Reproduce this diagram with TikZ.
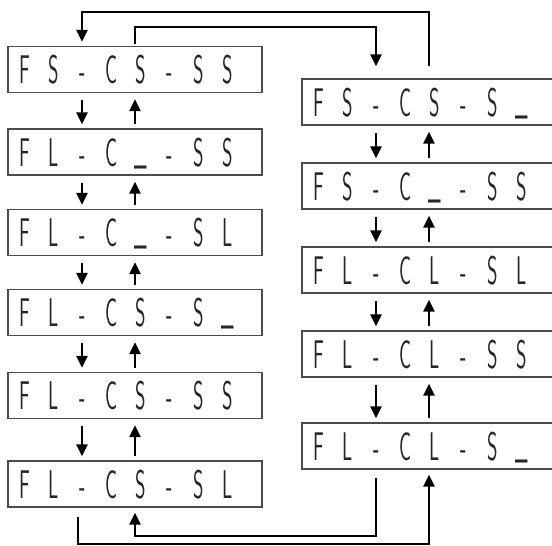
\documentclass[tikz,border=0pt]{standalone}
\usepackage{graphicx}
\usetikzlibrary{arrows.meta,calc}
\newcommand\lcdchar[1]{\makebox[29pt]{\ifx#1\_\raisebox{4pt}{\scalebox{0.5}[1]{\_}}\else\scalebox{0.5}[1]{#1}\fi}}
\makeatletter
\def\lcd#1{\makebox[254pt][l]{\hspace{2pt}\lcd@loop#1\relax}}
\def\lcd@loop#1{\ifx#1\relax\else\lcdchar{#1}\expandafter\lcd@loop\fi}
\makeatother
\tikzset{
  lcdbox/.style={draw=black!70, line width=1.4pt, minimum width=254pt, minimum height=46pt,
    inner sep=0pt, text height=28pt, text depth=0pt, text=black!85,
    font=\sffamily\fontsize{40}{40}\selectfont},
  arr/.style={line width=2.5pt, -{Triangle[length=12pt,width=11pt]}},
  ln/.style={line width=2.5pt}
}
\begin{document}
\begin{tikzpicture}[x=1pt,y=-1pt]
\useasboundingbox (0,0) rectangle (552,546);
\clip (0,0) rectangle (552,546);
% left column
\node[lcdbox] (L1) at (135,69.5) {\lcd{FS-CS-SS}};
\node[lcdbox] (L2) at (135,152) {\lcd{FL-C\_-SS}};
\node[lcdbox] (L3) at (135,232.5) {\lcd{FL-C\_-SL}};
\node[lcdbox] (L4) at (135,312.5) {\lcd{FL-CS-S\_}};
\node[lcdbox] (L5) at (135,395.5) {\lcd{FL-CS-SS}};
\node[lcdbox] (L6) at (135,484) {\lcd{FL-CS-SL}};
% right column
\node[lcdbox] (R1) at (429,102) {\lcd{FS-CS-S\_}};
\node[lcdbox] (R2) at (429,186) {\lcd{FS-C\_-SS}};
\node[lcdbox] (R3) at (429,270) {\lcd{FL-CL-SL}};
\node[lcdbox] (R4) at (429,354) {\lcd{FL-CL-SS}};
\node[lcdbox] (R5) at (429,446) {\lcd{FL-CL-S\_}};
% vertical arrows
\foreach \a/\b in {L1/L2,L2/L3,L3/L4,L4/L5,L5/L6,R1/R2,R2/R3,R3/R4,R4/R5}{
  \draw[arr, shorten <=7pt, shorten >=4pt] ([xshift=-53pt]\a.south) -- ([xshift=-53pt]\b.north);
  \draw[arr, shorten <=4pt, shorten >=6pt] (\b.north) -- (\a.south);
}
% top connectors
\coordinate (T1) at (0,12);
\coordinate (T2) at (0,27);
\draw[arr, shorten <=12pt, shorten >=4pt] (R1.north) -- (R1.north |- T1) -| ([xshift=-53pt]L1.north);
\draw[arr, shorten <=2pt, shorten >=12pt] (L1.north) -- (L1.north |- T2) -| ([xshift=-53pt]R1.north);
% bottom connectors
\coordinate (B1) at (0,544);
\coordinate (B2) at (0,536);
\draw[arr, shorten <=9pt, shorten >=5pt] ([xshift=-57pt]L6.south) -- ([xshift=-57pt]L6.south |- B1) -| (R5.south);
\draw[arr, shorten <=8pt, shorten >=5pt] ([xshift=-53pt]R5.south) -- ([xshift=-53pt]R5.south |- B2) -| (L6.south);
\end{tikzpicture}
\end{document}
